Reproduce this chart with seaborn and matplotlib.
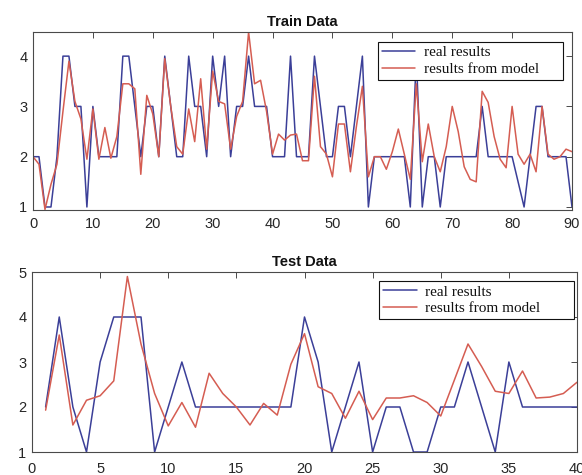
import matplotlib
matplotlib.use("Agg")
import matplotlib.pyplot as plt
import numpy as np
import pandas as pd
import seaborn as sns

# ---------------- data ----------------
series_labels = ["real results", "results from model"]
series_colors = ["#3b3f98", "#d55d52"]

train_x = list(range(0, 91))
train_real = [2, 2, 1, 1, 2, 4, 4, 3, 3, 1,
              3, 2, 2, 2, 2, 4, 4, 3, 2, 3,
              3, 2, 4, 3, 2, 2, 4, 3, 3, 2,
              4, 3, 4, 2, 3, 3, 4, 3, 3, 3,
              2, 2, 2, 4, 2, 2, 2, 4, 3, 2,
              2, 3, 3, 2, 3, 4, 1, 2, 2, 2,
              2, 2, 2, 1, 4, 1, 2, 2, 1, 2,
              2, 2, 2, 2, 2, 3, 2, 2, 2, 2,
              2, 1.5, 1, 2, 3, 3, 2, 2, 2, 2,
              1]
train_model = [2.0, 1.85, 0.95, 1.45, 1.85, 2.9, 3.9, 3.1, 2.75, 1.95,
               2.95, 1.95, 2.58, 1.97, 2.4, 3.45, 3.45, 3.35, 1.65, 3.22,
               2.85, 2.0, 3.95, 3.0, 2.2, 2.05, 2.95, 2.3, 3.55, 2.15,
               3.7, 3.1, 3.05, 2.15, 2.8, 3.1, 4.48, 3.45, 3.52, 2.9,
               2.05, 2.45, 2.33, 2.43, 2.45, 1.92, 1.92, 3.6, 2.2, 2.05,
               1.6, 2.65, 2.65, 1.7, 2.6, 3.4, 1.6, 2.0, 2.0, 1.75,
               2.1, 2.55, 2.05, 1.55, 3.45, 1.9, 2.65, 2.0, 1.7, 2.2,
               3.0, 2.5, 1.8, 1.55, 1.5, 3.3, 3.08, 2.4, 1.95, 1.78,
               3.0, 2.05, 1.85, 2.05, 1.7, 3.0, 2.05, 1.95, 2.0, 2.15,
               2.1]

test_x = list(range(1, 41))
test_real = [2, 4, 2, 1, 3, 4, 4, 4, 1, 2,
             3, 2, 2, 2, 2, 2, 2, 2, 2, 4,
             3, 1, 2, 3, 1, 2, 2, 1, 1, 2,
             2, 3, 2, 1, 3, 2, 2, 2, 2, 2]
test_model = [1.93, 3.6, 1.6, 2.15, 2.25, 2.58, 4.9, 3.4, 2.3, 1.58,
              2.1, 1.55, 2.75, 2.3, 2.0, 1.6, 2.08, 1.82, 2.95, 3.63,
              2.45, 2.3, 1.75, 2.35, 1.72, 2.2, 2.2, 2.25, 2.1, 1.8,
              2.6, 3.4, 2.9, 2.35, 2.3, 2.8, 2.2, 2.22, 2.3, 2.55]

train_xticks = [0, 10, 20, 30, 40, 50, 60, 70, 80, 90]
train_yticks = [1, 2, 3, 4]
test_xticks = [0, 5, 10, 15, 20, 25, 30, 35, 40]
test_yticks = [1, 2, 3, 4, 5]

# ---------------- style ----------------
sns.set_style("white")
plt.rcParams["font.family"] = ["Liberation Sans", "DejaVu Sans"]

W, H = 582, 475
fig = plt.figure(figsize=(W / 100, H / 100), dpi=100)
fig.patch.set_facecolor("white")


def px_axes(l, t, r, b):
    return fig.add_axes([l / W, 1 - b / H, (r - l) / W, (b - t) / H])


ax1 = px_axes(33, 32, 572, 210)
ax2 = px_axes(32, 272, 577, 452)

palette = dict(zip(series_labels, series_colors))


def draw(ax, xs, real, model, title, xticks, yticks, xlim, ylim, leg_box, xpad):
    n = len(xs)
    df = pd.DataFrame({
        "x": list(xs) * 2,
        "value": list(real) + list(model),
        "series": [series_labels[0]] * n + [series_labels[1]] * n,
    })
    sns.lineplot(data=df, x="x", y="value", hue="series", hue_order=series_labels,
                 palette=palette, ax=ax, linewidth=1.1, legend=False,
                 estimator=None, sort=False)
    ax.set_xlim(*xlim)
    ax.set_ylim(*ylim)
    ax.set_xticks(xticks)
    ax.set_yticks(yticks)
    ax.set_xlabel("")
    ax.set_ylabel("")
    ax.set_title(title, fontsize=10.5, fontweight="bold", pad=4, color="#111111")
    for s in ax.spines.values():
        s.set_visible(True)
        s.set_color("#4a4a4a")
        s.set_linewidth(0.8)
    ax.tick_params(direction="in", top=True, right=True, length=4, width=0.7,
                   color="#4a4a4a", labelsize=10.5, labelcolor="#262626", pad=4)
    ax.tick_params(axis="x", pad=xpad)
    handles = ax.get_lines()[:2]
    leg = ax.legend(handles, series_labels, loc="upper left",
                    bbox_to_anchor=leg_box, mode="expand", borderaxespad=0,
                    prop={"family": ["Liberation Serif", "DejaVu Serif"], "size": 11},
                    handlelength=2.2, handletextpad=0.55, labelspacing=0.18,
                    borderpad=0.25, fancybox=False, framealpha=1, frameon=True)
    fr = leg.get_frame()
    fr.set_edgecolor("#111111")
    fr.set_linewidth(0.8)
    for t in leg.get_texts():
        t.set_color("#111111")


draw(ax1, train_x, train_real, train_model, "Train Data", train_xticks, train_yticks,
     (0, 90), (0.94, 4.48), (0.640, 0.725, 0.343, 0.219), 5)
draw(ax2, test_x, test_real, test_model, "Test Data", test_xticks, test_yticks,
     (0, 40), (1, 5), (0.637, 0.728, 0.358, 0.222), 7)

fig.savefig("out.png", dpi=100)
